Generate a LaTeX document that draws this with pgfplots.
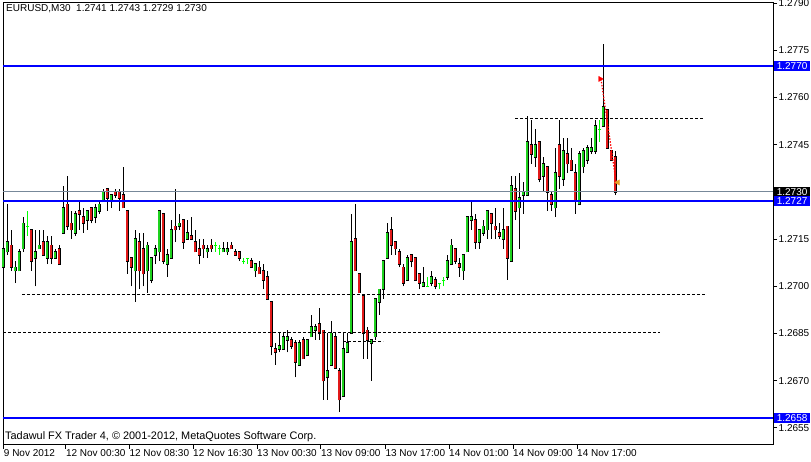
\documentclass[border=0pt]{standalone}
\usepackage{pgfplots}
\pgfplotsset{compat=1.18}
\usepackage{pgfplotstable}
\usepackage{fontspec}
\setmainfont{Liberation Sans}

\definecolor{bullc}{RGB}{30,210,30}
\definecolor{bearc}{RGB}{225,25,25}
\definecolor{dojic}{RGB}{0,255,0}
\definecolor{lvl}{RGB}{0,0,255}
\definecolor{bid}{RGB}{119,136,153}
\definecolor{exitc}{RGB}{230,160,40}

% EURUSD M30 bars: index, open, high, low, close
\pgfplotstableread{
i o h l c
0 1.2706 1.2716 1.2704 1.2712
1 1.2711 1.2726 1.2710 1.2714
3 1.2705 1.2708 1.2701 1.2706
4 1.2705 1.2712 1.2705 1.2711
5 1.2712 1.2722 1.2711 1.2720
8 1.2709 1.2718 1.2700 1.2711
9 1.2712 1.2718 1.2712 1.2713
11 1.2709 1.2716 1.2707 1.2714
13 1.2709 1.2712 1.2709 1.2711
15 1.2717 1.2732 1.2717 1.2725
18 1.2717 1.2724 1.2716 1.2723
21 1.2721 1.2724 1.2718 1.2724
23 1.2722 1.2726 1.2720 1.2725
24 1.2724 1.2727 1.2723 1.2726
25 1.2727 1.2731 1.2727 1.2730
27 1.2727 1.2729 1.2725 1.2729
33 1.2705 1.2718 1.2695 1.2715
36 1.2705 1.2714 1.2698 1.2713
37 1.2702 1.2709 1.2701 1.2709
38 1.2710 1.2713 1.2707 1.2712
39 1.2711 1.2724 1.2708 1.2724
41 1.2707 1.2712 1.2703 1.2710
42 1.2709 1.2721 1.2709 1.2718
44 1.2719 1.2723 1.2718 1.2720
46 1.2715 1.2721 1.2715 1.2717
51 1.2711 1.2713 1.2709 1.2712
55 1.2711 1.2714 1.2711 1.2712
56 1.2711 1.2714 1.2710 1.2712
63 1.2705 1.2707 1.2703 1.2707
69 1.2680 1.2685 1.2679 1.2681
70 1.2680 1.2685 1.2680 1.2684
71 1.2683 1.2686 1.2679 1.2684
74 1.2675 1.2683 1.2675 1.2682
76 1.2678 1.2683 1.2678 1.2683
77 1.2684 1.2691 1.2684 1.2687
78 1.2686 1.2688 1.2683 1.2687
81 1.2671 1.2685 1.2664 1.2673
82 1.2675 1.2689 1.2675 1.2685
85 1.2665 1.2685 1.2665 1.2680
86 1.2679 1.2685 1.2679 1.2682
87 1.2685 1.2723 1.2685 1.2714
92 1.2682 1.2683 1.2670 1.2683
93 1.2684 1.2696 1.2683 1.2696
94 1.2695 1.2699 1.2691 1.2699
95 1.2699 1.2708 1.2696 1.2708
96 1.2709 1.2720 1.2709 1.2717
101 1.2702 1.2710 1.2702 1.2709
105 1.2700 1.2706 1.2700 1.2701
107 1.2701 1.2705 1.2700 1.2703
111 1.2703 1.2710 1.2702 1.2708
112 1.2707 1.2715 1.2707 1.2713
115 1.2705 1.2710 1.2702 1.2710
116 1.2711 1.2722 1.2711 1.2722
117 1.2721 1.2727 1.2718 1.2722
119 1.2714 1.2718 1.2712 1.2718
120 1.2717 1.2721 1.2716 1.2719
121 1.2718 1.2724 1.2715 1.2724
125 1.2715 1.2725 1.2712 1.2718
127 1.2708 1.2735 1.2708 1.2732
129 1.2725 1.2736 1.2712 1.2728
130 1.2729 1.2733 1.2723 1.2730
131 1.2729 1.2754 1.2729 1.2746
133 1.2741 1.2750 1.2738 1.2745
135 1.2735 1.2741 1.2730 1.2739
138 1.2725 1.2744 1.2722 1.2736
140 1.2734 1.2747 1.2732 1.2743
144 1.2726 1.2743 1.2726 1.2742
145 1.2738 1.2744 1.2736 1.2743
146 1.2740 1.2745 1.2739 1.2744
147 1.2743 1.2747 1.2742 1.2744
148 1.2743 1.2753 1.2742 1.2751
150 1.2751 1.2777 1.2751 1.2757
}\bullbars

\pgfplotstableread{
i o h l c
2 1.2713 1.2718 1.2705 1.2706
7 1.2718 1.2718 1.2705 1.2708
10 1.2714 1.2718 1.2710 1.2710
12 1.2713 1.2716 1.2707 1.2709
14 1.2712 1.2713 1.2707 1.2707
16 1.2726 1.2735 1.2718 1.2719
17 1.2720 1.2724 1.2715 1.2718
19 1.2724 1.2727 1.2718 1.2723
20 1.2722 1.2725 1.2717 1.2720
22 1.2725 1.2725 1.2720 1.2721
26 1.2731 1.2731 1.2724 1.2728
28 1.2730 1.2731 1.2728 1.2729
29 1.2730 1.2731 1.2724 1.2728
30 1.2729 1.2738 1.2725 1.2725
31 1.2724 1.2724 1.2704 1.2708
32 1.2709 1.2709 1.2700 1.2706
34 1.2714 1.2717 1.2699 1.2705
35 1.2712 1.2717 1.2700 1.2704
40 1.2723 1.2723 1.2707 1.2708
43 1.2719 1.2731 1.2714 1.2718
45 1.2721 1.2721 1.2712 1.2714
47 1.2716 1.2722 1.2715 1.2715
48 1.2714 1.2718 1.2711 1.2711
49 1.2712 1.2715 1.2707 1.2710
50 1.2713 1.2715 1.2709 1.2712
52 1.2713 1.2715 1.2711 1.2712
57 1.2713 1.2714 1.2712 1.2712
58 1.2711 1.2712 1.2710 1.2710
59 1.2711 1.2711 1.2708 1.2709
62 1.2708 1.2709 1.2706 1.2706
64 1.2706 1.2708 1.2704 1.2704
65 1.2705 1.2707 1.2699 1.2702
66 1.2703 1.2705 1.2696 1.2696
67 1.2695 1.2695 1.2678 1.2681
68 1.2680 1.2682 1.2675 1.2679
72 1.2683 1.2684 1.2680 1.2681
73 1.2682 1.2683 1.2671 1.2676
75 1.2683 1.2684 1.2677 1.2677
79 1.2688 1.2693 1.2683 1.2685
80 1.2686 1.2686 1.2664 1.2670
83 1.2684 1.2685 1.2674 1.2674
84 1.2673 1.2674 1.2660 1.2664
88 1.2715 1.2726 1.2705 1.2705
89 1.2704 1.2704 1.2698 1.2698
90 1.2697 1.2697 1.2677 1.2685
91 1.2686 1.2687 1.2677 1.2683
97 1.2718 1.2722 1.2710 1.2713
98 1.2714 1.2714 1.2710 1.2712
99 1.2711 1.2712 1.2706 1.2707
100 1.2706 1.2707 1.2700 1.2701
102 1.2710 1.2710 1.2706 1.2708
103 1.2709 1.2709 1.2702 1.2702
104 1.2704 1.2704 1.2699 1.2701
108 1.2702 1.2703 1.2699 1.2700
113 1.2712 1.2712 1.2707 1.2708
114 1.2707 1.2709 1.2703 1.2706
118 1.2721 1.2723 1.2712 1.2714
122 1.2723 1.2723 1.2715 1.2720
123 1.2719 1.2725 1.2715 1.2718
124 1.2717 1.2720 1.2715 1.2716
126 1.2719 1.2719 1.2702 1.2709
128 1.2731 1.2735 1.2721 1.2724
132 1.2745 1.2753 1.2739 1.2742
134 1.2746 1.2746 1.2733 1.2734
136 1.2738 1.2738 1.2724 1.2730
137 1.2729 1.2730 1.2724 1.2726
139 1.2745 1.2753 1.2731 1.2735
141 1.2742 1.2747 1.2736 1.2739
142 1.2740 1.2744 1.2737 1.2737
143 1.2736 1.2739 1.2723 1.2727
151 1.2756 1.2756 1.2744 1.2744
152 1.2743 1.2743 1.2740 1.2740
153 1.2741 1.2743 1.2729 1.2730
}\bearbars

\pgfplotstableread{
i o h l c
6 1.2719 1.2724 1.2716 1.2719
53 1.2713 1.2714 1.2711 1.2713
54 1.2712 1.2713 1.2710 1.2712
60 1.2708 1.2709 1.2707 1.2708
61 1.2709 1.2709 1.2707 1.2709
106 1.2700 1.2703 1.2700 1.2700
109 1.2701 1.2701 1.2699 1.2701
110 1.2702 1.2703 1.2700 1.2702
149 1.2750 1.2753 1.2746 1.2750
}\dojibars

% vertical segment from y to y+error, no marks
\pgfplotsset{
  seg/.style={only marks, mark=*, mark size=0pt, mark options={draw=none, fill=none, opacity=0},
    error bars/.cd, y dir=plus, y explicit,
    error mark=none, error bar style={line cap=butt, #1}},
}

\begin{document}
\begin{tikzpicture}
\useasboundingbox (0,0) rectangle (811pt,461pt);
\begin{axis}[
  at={(3pt,16.5pt)}, anchor=south west,
  scale only axis, width=770pt, height=442pt,
  xmin=-0.1, xmax=192.4, ymin=1.26497, ymax=1.27902,
  clip=false,
  axis line style={line width=0.8pt},
  tick style={black, line width=0.8pt},
  tick align=outside, major tick length=4pt,
  xtick pos=left, ytick pos=right, yticklabel pos=right,
  ytick={1.2655,1.2670,1.2685,1.2700,1.2715,1.2730,1.2745,1.2760,1.2775,1.2790},
  yticklabels={1.2655,1.2670,1.2685,1.2700,1.2715,,1.2745,1.2760,1.2775,1.2790},
  xtick={0.08,15.6,31.5,47.4,63.4,79.35,95.5,111.4,127.4,143.4},
  xticklabels={9 Nov 2012,12 Nov 00:30,12 Nov 08:30,12 Nov 16:30,13 Nov 00:30,
    13 Nov 09:00,13 Nov 17:00,14 Nov 01:00,14 Nov 09:00,14 Nov 17:00},
  ticklabel style={font=\fontsize{10}{12}\selectfont},
  xticklabel style={anchor=north west, inner sep=0pt, yshift=-1pt},
  yticklabel style={anchor=west, inner sep=0pt, xshift=1.5pt},
]
% wicks
\addplot[seg={line width=0.8pt, black}] table[x=i, y=l, y error expr=\thisrow{h}-\thisrow{l}] {\bullbars};
\addplot[seg={line width=0.8pt, black}] table[x=i, y=l, y error expr=\thisrow{h}-\thisrow{l}] {\bearbars};
\addplot[seg={line width=0.8pt, dojic}] table[x=i, y=l, y error expr=\thisrow{h}-\thisrow{l}] {\dojibars};
\addplot[only marks, mark=-, mark size=1.6pt, dojic, mark options={line width=0.8pt}] table[x=i, y=o] {\dojibars};
% bodies: black outline, then colour
\addplot[seg={line width=3.4pt, black}] table[x=i, y expr=\thisrow{o}-0.000025, y error expr=\thisrow{c}-\thisrow{o}+0.00005] {\bullbars};
\addplot[seg={line width=2.0pt, bullc}] table[x=i, y=o, y error expr=\thisrow{c}-\thisrow{o}] {\bullbars};
\addplot[seg={line width=3.4pt, black}] table[x=i, y expr=\thisrow{c}-0.000025, y error expr=\thisrow{o}-\thisrow{c}+0.00005] {\bearbars};
\addplot[seg={line width=2.0pt, bearc}] table[x=i, y=c, y error expr=\thisrow{o}-\thisrow{c}] {\bearbars};

% trend lines
\addplot[black, line width=0.8pt, dash pattern=on 3pt off 2pt] coordinates {(127.9,1.27535) (174.9,1.27535)};
\addplot[black, line width=0.8pt, dash pattern=on 3pt off 2pt] coordinates {(4.7,1.26973) (175.4,1.26973)};
\addplot[black, line width=0.8pt, dash pattern=on 3pt off 2pt] coordinates {(-0.1,1.26854) (164.2,1.26854)};
\addplot[black, line width=0.8pt, dash pattern=on 3pt off 2pt] coordinates {(85,1.26824) (95,1.26824)};

% price levels
\addplot[bid, line width=0.8pt] coordinates {(-0.1,1.2730) (192.4,1.2730)};
\addplot[lvl, line width=2pt] coordinates {(-0.1,1.2770) (192.4,1.2770)};
\addplot[lvl, line width=2pt] coordinates {(-0.1,1.2727) (192.4,1.2727)};
\addplot[lvl, line width=2pt] coordinates {(-0.1,1.2658) (192.4,1.2658)};

% trade
\addplot[red, line width=1.2pt, dash pattern=on 1.5pt off 1.5pt] coordinates {(149.4,1.27659) (153.2,1.2733)};
\addplot[only marks, red, mark=triangle*, mark size=3pt, mark options={rotate=-90}] coordinates {(149.2,1.27659)};
\addplot[only marks, exitc, mark=triangle*, mark size=3pt, mark options={rotate=90}] coordinates {(153.6,1.2733)};

\tikzset{lab/.style={anchor=west, text=white, inner xsep=3pt, inner ysep=1.5pt, xshift=0.6pt,
  font=\fontsize{10}{12}\selectfont}}
\node[lab, fill=lvl] at ({rel axis cs:1,0}|-{axis cs:0,1.2770}) {1.2770};
\node[lab, fill=black] at ({rel axis cs:1,0}|-{axis cs:0,1.2730}) {1.2730};
\node[lab, fill=lvl] at ({rel axis cs:1,0}|-{axis cs:0,1.2727}) {1.2727};
\node[lab, fill=lvl] at ({rel axis cs:1,0}|-{axis cs:0,1.2658}) {1.2658};
\end{axis}
\node[anchor=west, inner sep=0pt, font=\fontsize{10}{12}\selectfont] at (6pt,452pt) {EURUSD,M30\ \ 1.2741 1.2743 1.2729 1.2730};
\node[anchor=west, inner sep=0pt, font=\fontsize{10.9}{12}\selectfont] at (5pt,24pt) {Tadawul FX Trader 4, © 2001-2012, MetaQuotes Software Corp.};
\end{tikzpicture}
\end{document}
